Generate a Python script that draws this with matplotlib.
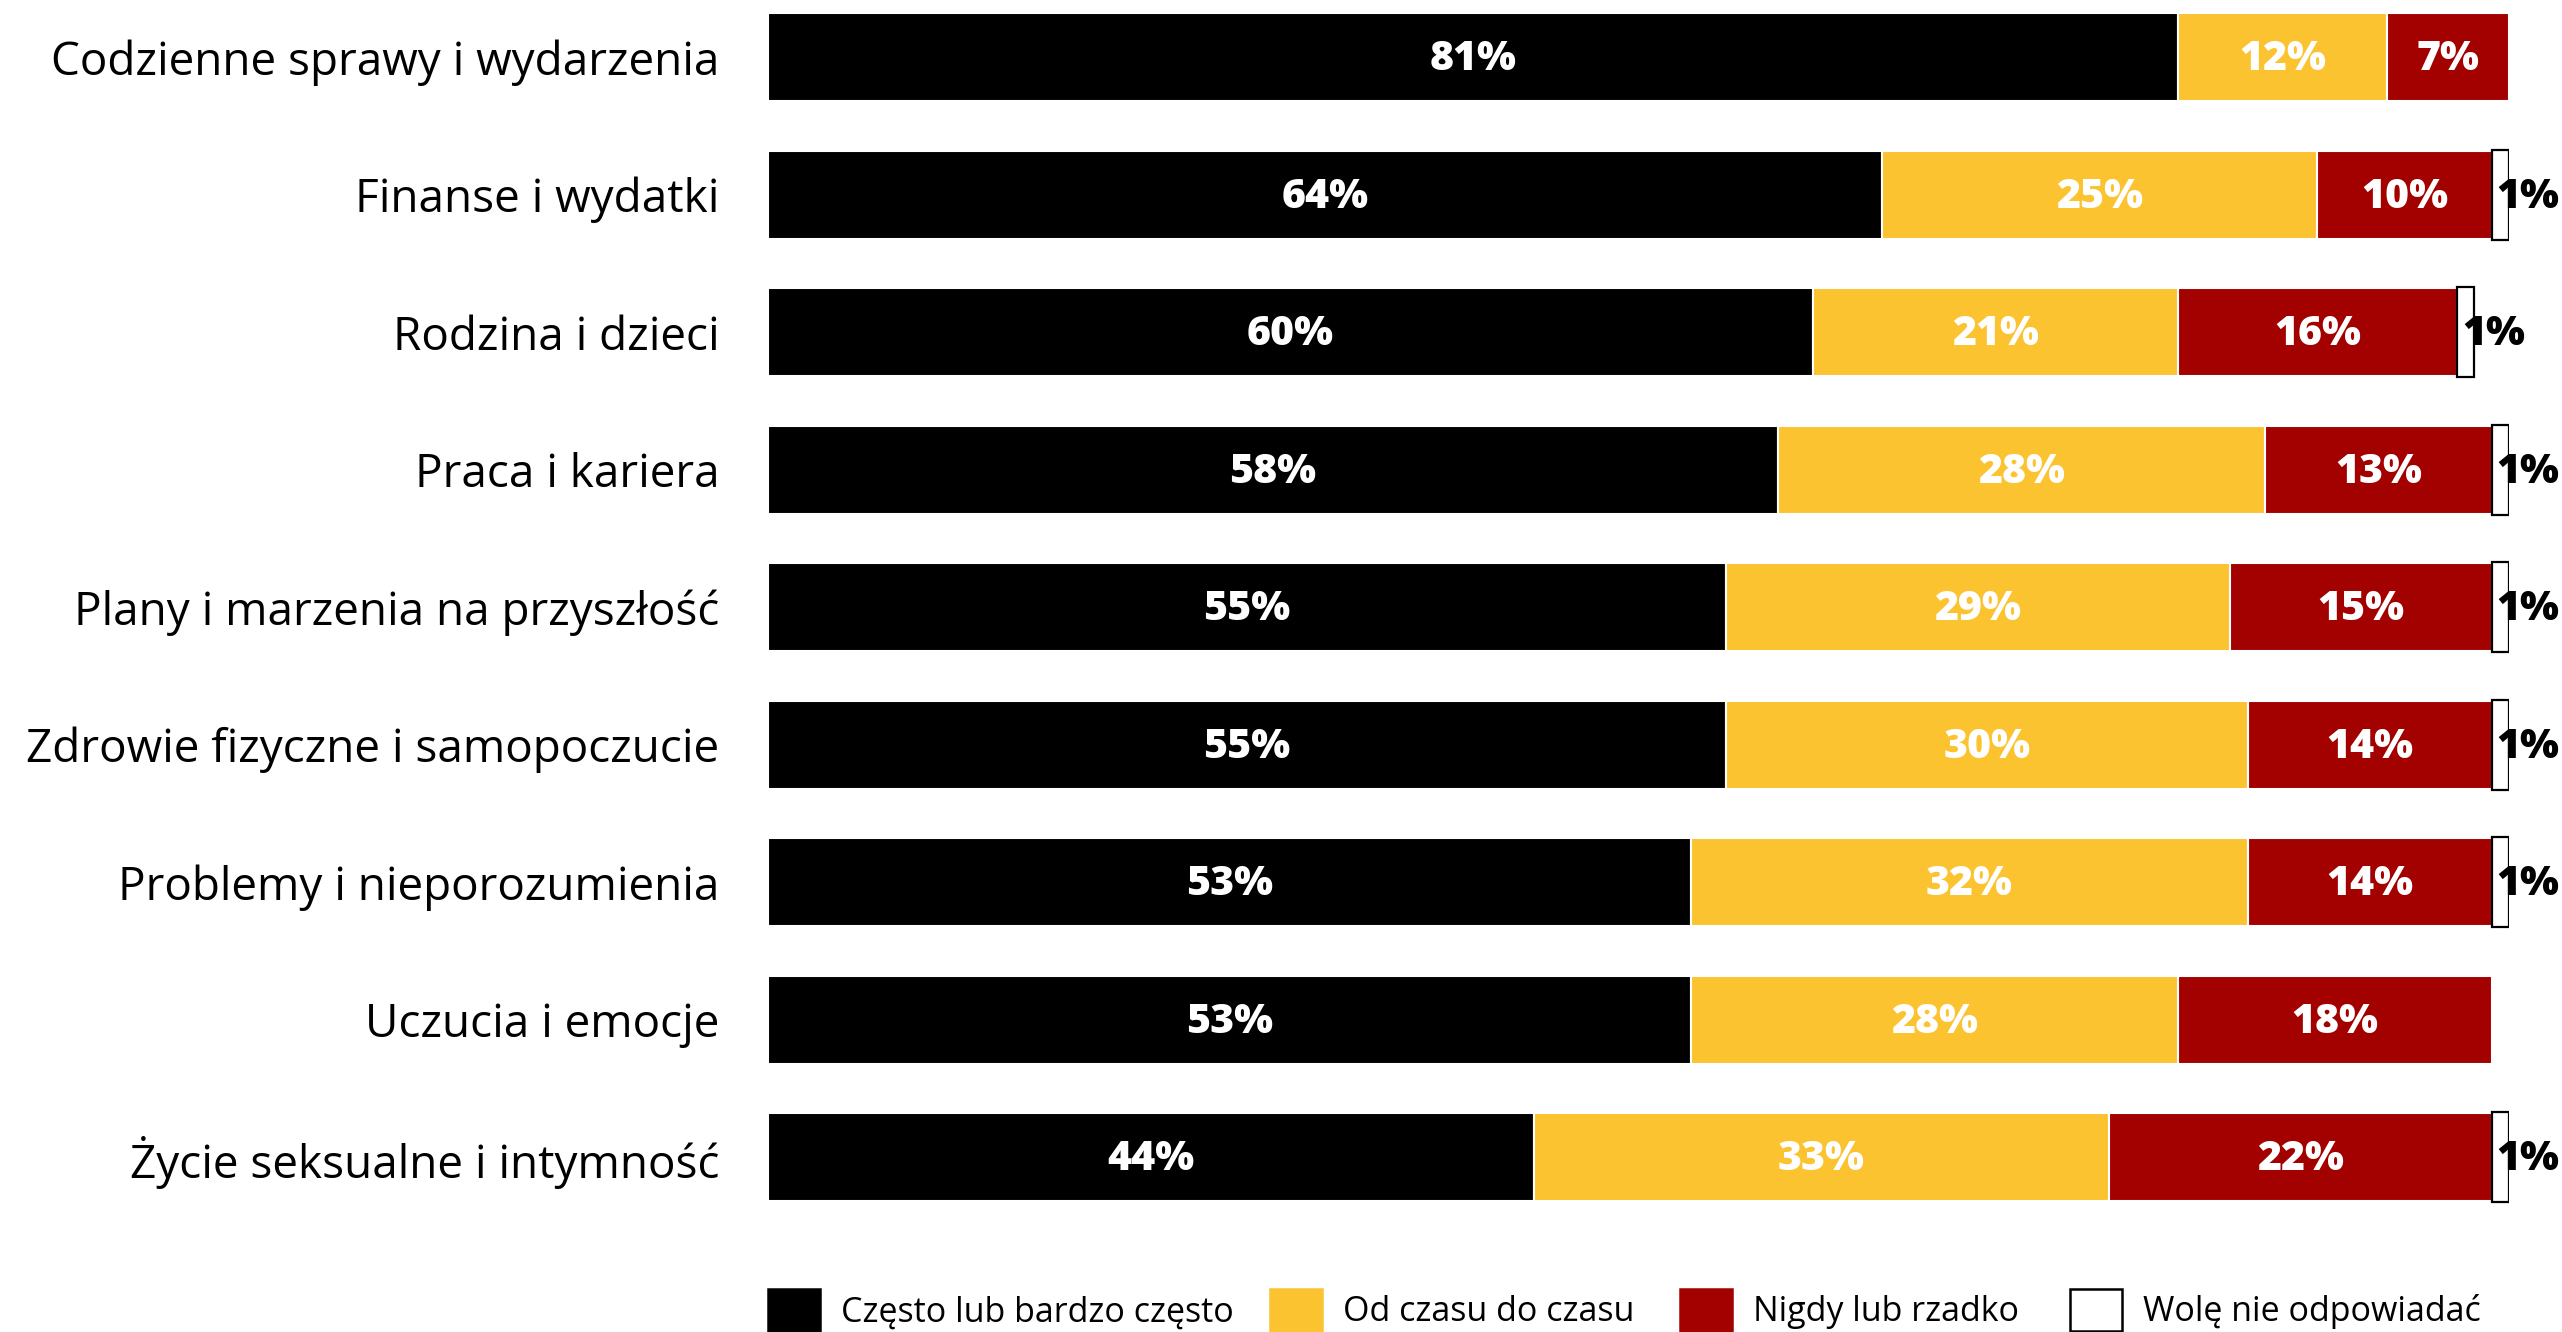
import matplotlib
matplotlib.use("Agg")
import matplotlib.pyplot as plt
from matplotlib.patches import Patch
import numpy as np

categories = [
    "Codzienne sprawy i wydarzenia",
    "Finanse i wydatki",
    "Rodzina i dzieci",
    "Praca i kariera",
    "Plany i marzenia na przyszłość",
    "Zdrowie fizyczne i samopoczucie",
    "Problemy i nieporozumienia",
    "Uczucia i emocje",
    "Życie seksualne i intymność",
]
series_names = ["Często lub bardzo często", "Od czasu do czasu", "Nigdy lub rzadko", "Wolę nie odpowiadać"]
often = [81, 64, 60, 58, 55, 55, 53, 53, 44]
sometimes = [12, 25, 21, 28, 29, 30, 32, 28, 33]
never = [7, 10, 16, 13, 15, 14, 14, 18, 22]
no_answer = [0, 1, 1, 1, 1, 1, 1, 0, 1]

colors = ["#000000", "#FCC330", "#A30000", "#FFFFFF"]

W, H = 2562, 1332
fig = plt.figure(figsize=(W / 100, H / 100), dpi=100)
ax = fig.add_axes([768 / W, 1 - 1250 / H, 1741 / W, 1250 / H])

y = np.arange(len(categories))
data = [often, sometimes, never, no_answer]
left = np.zeros(len(categories))
bh = 0.64
for k, vals in enumerate(data):
    vals = np.array(vals, dtype=float)
    if k < 3:
        ax.barh(y, vals, left=left, height=bh, color=colors[k], edgecolor="white", linewidth=1.5)
        for i, v in enumerate(vals):
            if v > 0:
                ax.text(left[i] + v / 2, y[i] + 0.02, f"{int(v)}%", ha="center", va="center",
                        color="white", fontsize=29.5, fontweight=800, family="Open Sans")
    else:
        mask = vals > 0
        ax.barh(y[mask], vals[mask], left=left[mask], height=bh * 1.02, color="white",
                edgecolor="black", linewidth=1.6)
        for i, v in enumerate(vals):
            if v > 0:
                ax.text(left[i] + 0.3, y[i] + 0.02, f"{int(v)}%", ha="left", va="center",
                        color="black", fontsize=29.5, fontweight=800, family="Open Sans",
                        clip_on=False)
    left += vals

ax.set_xlim(0, 100)
ax.set_ylim(8.675, -0.416)
ax.set_yticks(y)
ax.set_yticklabels(categories, fontsize=33, family="Open Sans")
ax.tick_params(axis="y", length=0, pad=35)
ax.set_xticks([])
for s in ax.spines.values():
    s.set_visible(False)

leg_x = [768, 1270, 1680, 2070]
fs = 24.5
for c, name, lx in zip(colors, series_names, leg_x):
    h = Patch(facecolor=c, edgecolor="black" if c == "#FFFFFF" else c, linewidth=1.8)
    fig.legend([h], [name], loc="center left", bbox_to_anchor=(lx / W, 1 - 1310 / H),
               frameon=False, borderpad=0, borderaxespad=0, handlelength=1.53,
               handleheight=1.53, handletextpad=0.62,
               prop={"family": "Open Sans", "size": fs})

fig.savefig("out.png", dpi=100)
